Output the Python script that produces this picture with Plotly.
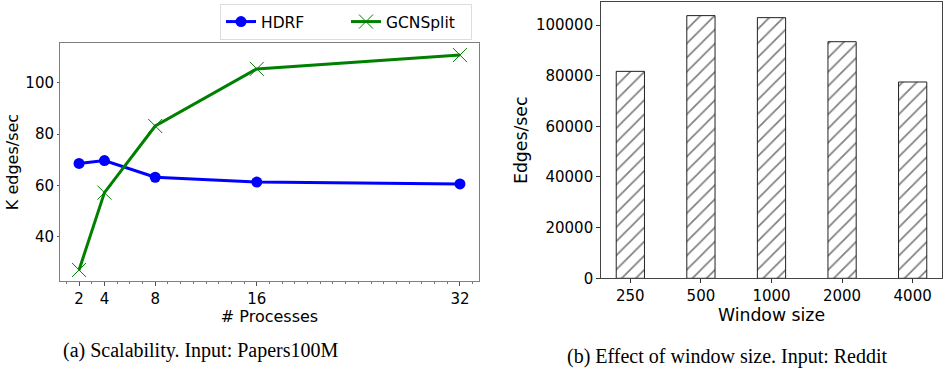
import plotly.graph_objects as go

# Scalability data (K edges/sec vs number of processes)
processes = [2, 4, 8, 16, 32]
hdrf = [68.6, 69.7, 63.2, 61.3, 60.6]
gcnsplit = [27.0, 57.2, 83.2, 105.5, 110.9]

# Window size effect (edges/sec)
window_sizes = ["250", "500", "1000", "2000", "4000"]
edges_per_sec = [81700, 103700, 102900, 93400, 77500]

W, H = 944, 375
font_family = "DejaVu Sans"
frame_color = "#7f7f7f"

fig = go.Figure()

fig.add_trace(go.Scatter(
    x=processes, y=hdrf, name="HDRF", mode="lines+markers",
    line=dict(color="#0000ff", width=3),
    marker=dict(symbol="circle", size=11, color="#0000ff"),
    xaxis="x", yaxis="y",
))
fig.add_trace(go.Scatter(
    x=processes, y=gcnsplit, name="GCNSplit", mode="lines+markers",
    line=dict(color="#008000", width=3),
    marker=dict(symbol="x-thin-open", size=14,
                line=dict(color="rgba(0,128,0,0.6)", width=1)),
    xaxis="x", yaxis="y",
))

fig.add_trace(go.Bar(
    x=window_sizes, y=edges_per_sec, width=0.4, showlegend=False,
    marker=dict(color="white", line=dict(color="#222222", width=1),
                pattern=dict(shape="/", fgcolor="black", bgcolor="white",
                             size=10, solidity=0.17)),
    xaxis="x2", yaxis="y2",
))

tick_font = dict(family=font_family, size=15, color="black")
left_title_font = dict(family=font_family, size=16, color="black")
right_title_font = dict(family=font_family, size=17.3, color="black")

fig.update_layout(
    width=W, height=H,
    margin=dict(l=0, r=0, t=0, b=0, autoexpand=False),
    paper_bgcolor="white", plot_bgcolor="white",
    font=dict(family=font_family, color="black"),
    showlegend=True,
    legend=dict(
        orientation="h", x=220 / W, y=1 - 4 / H, xanchor="left", yanchor="top",
        font=dict(family=font_family, size=15.5, color="black"),
        bordercolor="#dddddd", borderwidth=1, bgcolor="white",
        itemwidth=30, entrywidth=80, entrywidthmode="pixels",
    ),
    xaxis=dict(
        domain=[60 / W, 479 / W], range=[0.5, 33.5], automargin=False,
        tickvals=processes, ticktext=[str(p) for p in processes],
        ticks="outside", ticklen=3.5, tickcolor="#555555",
        minor=dict(dtick=1, tick0=0, ticks="outside", ticklen=2, tickcolor="#777777"),
        showline=True, linecolor=frame_color, mirror=True, linewidth=1,
        showgrid=False, zeroline=False, tickfont=tick_font,
        title=dict(text="# Processes", font=left_title_font, standoff=0),
        anchor="y",
    ),
    yaxis=dict(
        domain=[1 - 281 / H, 1 - 43 / H], range=[22.7, 115.6], automargin=False,
        tickvals=[40, 60, 80, 100],
        ticks="outside", ticklen=2, tickcolor="#555555",
        showline=True, linecolor=frame_color, mirror=True, linewidth=1,
        showgrid=False, zeroline=False, tickfont=tick_font,
        title=dict(text="K edges/sec", font=left_title_font, standoff=2),
        anchor="x",
    ),
    xaxis2=dict(
        domain=[600.7 / W, 942.3 / W], range=[-0.42, 4.42], type="category",
        automargin=False,
        ticks="outside", ticklen=3.5, tickcolor="#333333",
        showline=True, linecolor="#444444", mirror=True, linewidth=1,
        showgrid=False, zeroline=False, tickfont=tick_font,
        title=dict(text="Window size", font=right_title_font, standoff=0),
        anchor="y2",
    ),
    yaxis2=dict(
        domain=[1 - 278.3 / H, 1 - 2.3 / H], range=[0, 108960], automargin=False,
        tickvals=[0, 20000, 40000, 60000, 80000, 100000], tickformat="d",
        ticks="outside", ticklen=3.5, tickcolor="#333333",
        showline=True, linecolor="#444444", mirror=True, linewidth=1,
        showgrid=False, zeroline=False, tickfont=tick_font,
        title=dict(text="Edges/sec", font=right_title_font, standoff=3),
        anchor="x2",
    ),
)

caption_font = dict(family="Liberation Serif", size=20, color="black")
fig.add_annotation(text="(a) Scalability. Input: Papers100M", x=201 / W, y=1 - 350 / H,
                   xref="paper", yref="paper", showarrow=False, font=caption_font,
                   xanchor="center", yanchor="middle")
fig.add_annotation(text="(b) Effect of window size. Input: Reddit", x=727 / W, y=1 - 356 / H,
                   xref="paper", yref="paper", showarrow=False, font=caption_font,
                   xanchor="center", yanchor="middle")

fig.write_html("out.html")
